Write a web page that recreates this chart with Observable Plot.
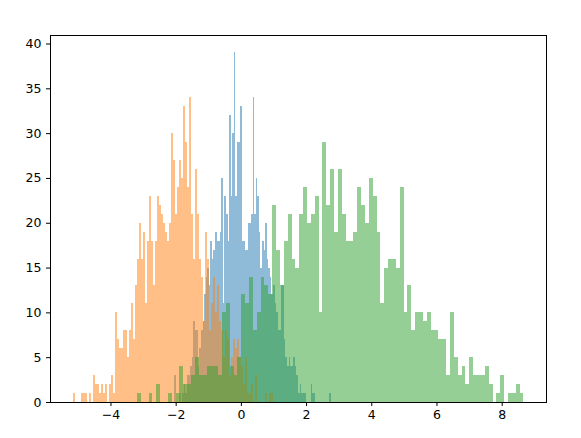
<!DOCTYPE html>
<html><head><meta charset="utf-8">
<script src="https://cdn.jsdelivr.net/npm/d3@7"></script>
<script src="https://cdn.jsdelivr.net/npm/@observablehq/plot@0.6"></script>
<style>html,body{margin:0;padding:0;background:#fff}</style>
</head><body><div id="chart"></div>
<script>
// Histogram counts (100 bins each)
const blueCounts = [
  3,0,0,1,0,1,2,1,3,3,
  4,5,9,8,8,4,6,8,9,12,
  14,15,13,18,16,17,19,18,18,19,
  25,11,23,21,18,32,23,30,39,23,
  29,29,33,18,18,17,17,20,20,21,
  34,21,25,23,19,15,18,17,20,16,
  15,14,12,13,11,10,8,8,13,13,
  7,5,4,5,4,4,5,4,3,1,
  2,1,1,1,0,0,0,2,1,1,
  0,0,0,0,0,0,0,0,0,1
];
const orangeCounts = [
  1,0,0,0,1,1,1,0,1,0,
  3,2,2,1,2,1,2,0,2,3,
  1,10,7,6,6,8,8,5,8,11,
  7,13,16,20,16,19,11,18,23,18,
  13,18,23,22,21,20,19,18,20,30,
  27,21,24,27,25,33,29,24,34,21,
  16,26,21,16,14,9,19,16,8,11,
  14,10,13,9,8,5,8,7,3,5,
  7,6,7,5,4,2,5,1,1,2,
  0,3,0,0,0,0,1,0,1,1
];
const greenCounts = [
  1,0,0,1,0,2,0,0,1,0,
  1,4,2,2,3,5,3,3,4,4,
  4,3,10,11,4,3,5,12,11,14,
  8,10,14,13,12,22,17,13,18,21,
  16,15,21,24,20,21,23,10,29,22,
  26,19,26,21,18,18,19,24,22,20,
  25,23,19,11,15,16,16,15,24,10,
  13,8,10,10,9,10,8,8,7,7,
  3,10,5,3,4,2,5,3,3,3,
  4,2,0,1,3,0,1,1,2,1
];
// Bin ranges [min, max] of each series
const blueRange = [-2.040, 2.760];
const orangeRange = [-5.163, 0.991];
const greenRange = [-3.188, 8.668];
const seriesColors = ["#1f77b4", "#ff7f0e", "#2ca02c"];
const xTicks = [-4, -2, 0, 2, 4, 6, 8];
const yTicks = [0, 5, 10, 15, 20, 25, 30, 35, 40];

function toBins(counts, range) {
  const w = (range[1] - range[0]) / counts.length;
  return counts.map((c, i) => ({x1: range[0] + i * w, x2: range[0] + (i + 1) * w, y: c}));
}
const blue = toBins(blueCounts, blueRange);
const orange = toBins(orangeCounts, orangeRange);
const green = toBins(greenCounts, greenRange);

const xmin = Math.min(blueRange[0], orangeRange[0], greenRange[0]);
const xmax = Math.max(blueRange[1], orangeRange[1], greenRange[1]);
const xpad = (xmax - xmin) * 0.05;
const ymax = Math.max(...blueCounts, ...orangeCounts, ...greenCounts) * 1.05;

const fmt = d => d < 0 ? "\u2212" + Math.abs(d) : String(d);

const chart = Plot.plot({
  width: 581,
  height: 438,
  marginLeft: 50,
  marginRight: 35,
  marginTop: 35,
  marginBottom: 36,
  style: {fontFamily: "DejaVu Sans", fontSize: "12.5px", color: "black", background: "white"},
  x: {domain: [xmin - xpad, xmax + xpad]},
  y: {domain: [0, ymax]},
  marks: [
    Plot.rectY(blue, {x1: "x1", x2: "x2", y: "y", fill: seriesColors[0], fillOpacity: 0.5, inset: 0, shapeRendering: "crispEdges"}),
    Plot.rectY(orange, {x1: "x1", x2: "x2", y: "y", fill: seriesColors[1], fillOpacity: 0.5, inset: 0, shapeRendering: "crispEdges"}),
    Plot.rectY(green, {x1: "x1", x2: "x2", y: "y", fill: seriesColors[2], fillOpacity: 0.5, inset: 0, shapeRendering: "crispEdges"}),
    Plot.axisX({ticks: xTicks, tickFormat: fmt, tickSize: 4, tickPadding: 4, label: null, stroke: "black", fill: "black"}),
    Plot.axisY({ticks: yTicks, tickFormat: fmt, tickSize: 4, tickPadding: 5, label: null, stroke: "black", fill: "black"}),
    Plot.frame({stroke: "black", strokeWidth: 1})
  ]
});
document.getElementById("chart").appendChild(chart);
</script>
</body></html>
